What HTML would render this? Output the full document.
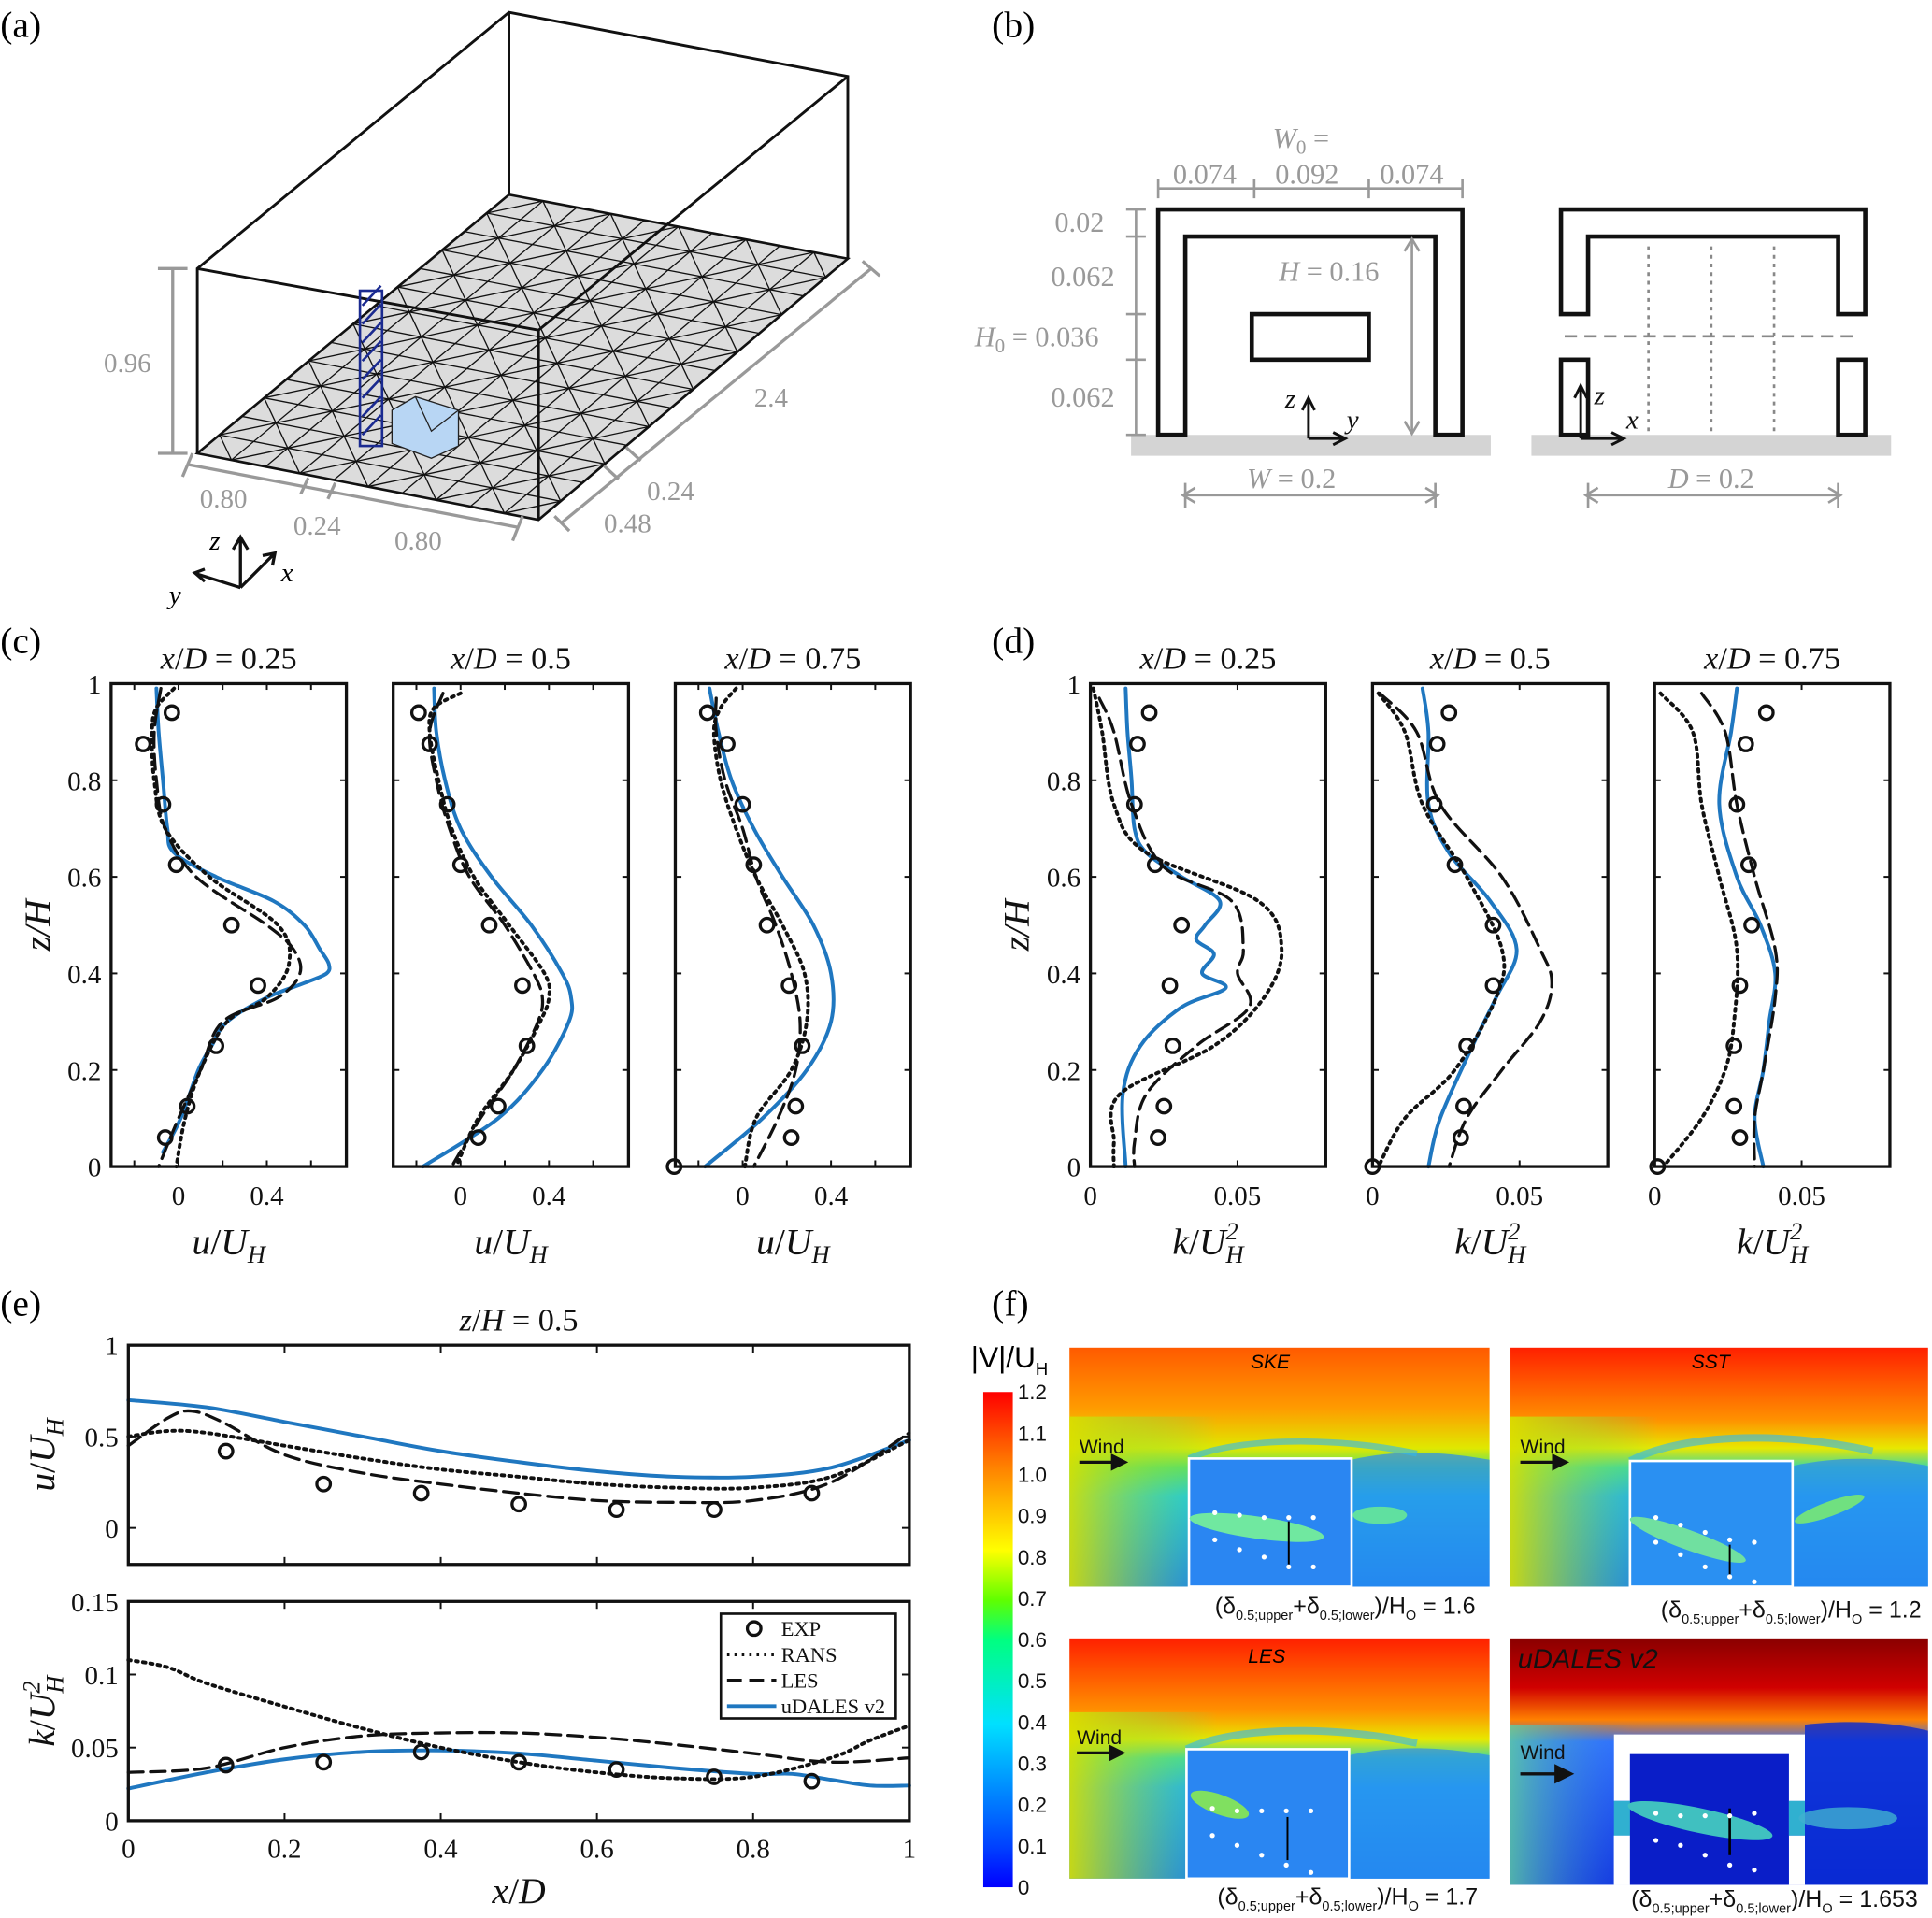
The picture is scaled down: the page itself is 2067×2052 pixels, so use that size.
<!DOCTYPE html>
<html><head><meta charset="utf-8">
<style>
html,body{margin:0;padding:0;background:#fff;}
svg{display:block;}
.ser{font-family:"Liberation Serif",serif;}
.it{font-style:italic;}
.sans{font-family:"Liberation Sans",sans-serif;}
</style></head>
<body>
<svg id="fig" width="2067" height="2052" viewBox="0 0 1568 1557" xmlns="http://www.w3.org/2000/svg">
<defs>
<linearGradient id="jet" x1="0" y1="1" x2="0" y2="0">
<stop offset="0" stop-color="#0000ff"/><stop offset="0.08" stop-color="#0040ff"/>
<stop offset="0.33" stop-color="#00e0ff"/><stop offset="0.5" stop-color="#00ff80"/>
<stop offset="0.58" stop-color="#60ff00"/><stop offset="0.68" stop-color="#ffff00"/>
<stop offset="0.85" stop-color="#ff8000"/><stop offset="1" stop-color="#ff0000"/>
</linearGradient>
<linearGradient id="fieldA" x1="0" y1="0" x2="0" y2="1">
<stop offset="0" stop-color="#ff5a00"/><stop offset="0.25" stop-color="#ff9a00"/>
<stop offset="0.42" stop-color="#e0e800"/><stop offset="0.5" stop-color="#60e060"/>
<stop offset="0.62" stop-color="#20c8e0"/><stop offset="1" stop-color="#1a80f0"/>
</linearGradient>
<linearGradient id="fieldB" x1="0" y1="0" x2="0" y2="1">
<stop offset="0" stop-color="#ff2000"/><stop offset="0.3" stop-color="#ff9000"/>
<stop offset="0.42" stop-color="#e8e800"/><stop offset="0.5" stop-color="#40d8a0"/>
<stop offset="0.62" stop-color="#20b0f0"/><stop offset="1" stop-color="#1a80f0"/>
</linearGradient>
<linearGradient id="fieldD" x1="0" y1="0" x2="0" y2="1">
<stop offset="0" stop-color="#8a0000"/><stop offset="0.2" stop-color="#d00000"/>
<stop offset="0.33" stop-color="#ff8000"/><stop offset="0.42" stop-color="#3070ff"/>
<stop offset="1" stop-color="#1030e0"/>
</linearGradient>
<linearGradient id="leftGlow" x1="0" y1="0" x2="1" y2="0">
<stop offset="0" stop-color="#d8e000" stop-opacity="0.9"/><stop offset="1" stop-color="#60e060" stop-opacity="0"/>
</linearGradient>
<linearGradient id="leftGlowD" x1="0" y1="0" x2="1" y2="0">
<stop offset="0" stop-color="#60d0a0" stop-opacity="0.8"/><stop offset="1" stop-color="#3080f0" stop-opacity="0"/>
</linearGradient>
</defs>

<!-- Panel labels -->
<text class="ser" x="0" y="30" font-size="30">(a)</text>
<text class="ser" x="805" y="30" font-size="30">(b)</text>
<text class="ser" x="0" y="530" font-size="30">(c)</text>
<text class="ser" x="805" y="530" font-size="30">(d)</text>
<text class="ser" x="0" y="1068" font-size="30">(e)</text>
<text class="ser" x="805" y="1068" font-size="30">(f)</text>

<!-- Panel (a) -->
<g id="panelA">
<polygon points="160,368 437,422 688,210 413,158" fill="#dcdcdc" stroke="#111" stroke-width="2"/>
<g id="mesh" stroke="#111" stroke-width="1"></g>
<g fill="none" stroke="#111" stroke-width="2.2">
<polyline points="160,368 160,218 413,10 688,62 688,210"/>
<line x1="413" y1="10" x2="413" y2="158"/>
<polyline points="160,218 437,268 688,62"/>
<line x1="437" y1="268" x2="437" y2="422"/>
</g>
<g>
<polygon points="318,333 337,322 372,333 372,362 350,372 318,360" fill="#b8d6f4" stroke="#222" stroke-width="1"/>
<polyline points="337,322 350,350 372,333 M318,333 350,350 350,372" fill="none" stroke="#222" stroke-width="1"/>
</g>
<g stroke="#1a2a90" stroke-width="2" fill="none">
<rect x="292" y="236" width="18" height="126"/>
<path d="M294,248 L309,232 M294,263 L309,247 M294,278 L309,262 M294,293 L309,277 M294,308 L309,292 M294,323 L309,307 M294,338 L309,322 M294,353 L309,337"/>
</g>
<g stroke="#999" stroke-width="2.5" fill="none">
<line x1="140" y1="218" x2="140" y2="368"/><line x1="128" y1="218" x2="152" y2="218"/><line x1="128" y1="368" x2="152" y2="368"/>
<line x1="152" y1="377" x2="420" y2="428"/><line x1="148" y1="387" x2="156" y2="368"/><line x1="416" y1="439" x2="424" y2="419"/>
<line x1="244" y1="401" x2="250" y2="388"/><line x1="266" y1="405" x2="272" y2="392"/>
<line x1="455" y1="425" x2="707" y2="218"/><line x1="450" y1="419" x2="462" y2="431"/><line x1="700" y1="212" x2="714" y2="224"/>
<line x1="490" y1="378" x2="502" y2="389"/><line x1="508" y1="363" x2="520" y2="374"/>
</g>
<g class="ser" fill="#999" font-size="22">
<text x="84" y="302">0.96</text>
<text x="612" y="330">2.4</text>
<text x="162" y="412">0.80</text>
<text x="238" y="434">0.24</text>
<text x="320" y="446">0.80</text>
<text x="525" y="406">0.24</text>
<text x="490" y="432">0.48</text>
</g>
<g stroke="#111" stroke-width="2.5" fill="none">
<path d="M195,477 L195,436 M189,446 L195,436 L201,446"/>
<path d="M195,477 L160,466 M166,462 L158,465 L166,472"/>
<path d="M195,477 L222,450 M213,451 L223,449 L221,459"/>
</g>
<text class="ser it" x="170" y="446" font-size="22">z</text>
<text class="ser it" x="228" y="472" font-size="22">x</text>
<text class="ser it" x="137" y="490" font-size="22">y</text>
</g>

<!-- Panel (b) -->
<g id="panelB">
<rect x="918" y="353" width="292" height="17" fill="#d4d4d4"/>
<rect x="1243" y="353" width="292" height="17" fill="#d4d4d4"/>
<path d="M940,353 V170 H1187 V353 H1165 V192 H962 V353 Z" fill="none" stroke="#111" stroke-width="3.5"/>
<rect x="1016" y="255" width="95" height="37" fill="none" stroke="#111" stroke-width="3.5"/>
<path d="M1267,255 V170 H1514 V255 H1492 V192 H1289 V255 Z" fill="none" stroke="#111" stroke-width="3.5"/>
<rect x="1267" y="292" width="22" height="61" fill="none" stroke="#111" stroke-width="3.5"/>
<rect x="1492" y="292" width="22" height="61" fill="none" stroke="#111" stroke-width="3.5"/>
<g stroke="#888" stroke-width="2" stroke-dasharray="3,4">
<line x1="1338" y1="200" x2="1338" y2="353"/><line x1="1389" y1="200" x2="1389" y2="353"/><line x1="1440" y1="200" x2="1440" y2="353"/>
</g>
<line x1="1270" y1="273" x2="1510" y2="273" stroke="#888" stroke-width="2" stroke-dasharray="10,6"/>
<g stroke="#999" stroke-width="2" fill="none">
<path d="M940,153 H1187 M940,145 V161 M1018,145 V161 M1111,145 V161 M1187,145 V161"/>
<path d="M922,170 V353 M914,170 H930 M914,192 H930 M914,255 H930 M914,292 H930 M914,353 H930"/>
<path d="M1146,196 V350 M1140,204 L1146,194 L1152,204 M1140,342 L1146,352 L1152,342"/>
<path d="M962,402 H1165 M970,396 L960,402 L970,408 M1157,396 L1167,402 L1157,408 M962,392 V412 M1165,392 V412"/>
<path d="M1289,402 H1492 M1297,396 L1287,402 L1297,408 M1484,396 L1494,402 L1484,408 M1289,392 V412 M1492,392 V412"/>
</g>
<g class="ser" fill="#999" font-size="23">
<text x="1033" y="120" class="it">W<tspan font-size="16" dy="5" font-style="normal">0</tspan><tspan dy="-5" font-style="normal"> =</tspan></text>
<text x="952" y="149">0.074</text>
<text x="1035" y="149">0.092</text>
<text x="1120" y="149">0.074</text>
<text x="856" y="188">0.02</text>
<text x="853" y="232">0.062</text>
<text x="791" y="281"><tspan font-style="italic">H</tspan><tspan font-size="16" dy="5">0</tspan><tspan dy="-5"> = 0.036</tspan></text>
<text x="853" y="330">0.062</text>
<text x="1038" y="228"><tspan font-style="italic">H</tspan> = 0.16</text>
<text x="1012" y="396"><tspan font-style="italic">W</tspan> = 0.2</text>
<text x="1354" y="396"><tspan font-style="italic">D</tspan> = 0.2</text>
</g>
<g stroke="#111" stroke-width="2.2" fill="none">
<path d="M1062,356 V325 M1057,333 L1062,323 L1067,333 M1062,356 H1090 M1082,351 L1092,356 L1082,361"/>
<path d="M1283,356 V315 M1278,323 L1283,313 L1288,323 M1283,356 H1316 M1308,351 L1318,356 L1308,361"/>
</g>
<g class="ser it" font-size="22" fill="#111">
<text x="1043" y="331">z</text>
<text x="1093" y="348">y</text>
<text x="1294" y="328">z</text>
<text x="1320" y="348">x</text>
</g>
</g>

<!-- Panels (c),(d),(e) rendered by script -->
<g id="charts"></g>

<!-- Panel (f) -->
<g id="panelF">
<text class="sans" x="788" y="1110" font-size="24">|V|/U<tspan font-size="14" dy="6">H</tspan></text>
<rect x="798" y="1130" width="24" height="402" fill="url(#jet)"/>
<g id="cbticks" class="sans" font-size="17" fill="#111"></g>

<g>
<rect x="868" y="1094" width="341" height="194" fill="url(#fieldA)"/>
<rect x="868" y="1150" width="120" height="138" fill="url(#leftGlow)"/>
<path d="M1097,1185 C1140,1175 1180,1180 1209,1185 L1209,1288 L1097,1288 Z" fill="#2a8cf0" opacity="0.7"/>
<path d="M965,1184 C1000,1168 1080,1165 1150,1180" fill="none" stroke="#30b8f0" stroke-width="5" opacity="0.6"/>
<rect x="965" y="1184" width="132" height="104" fill="#2a86f2" stroke="#fff" stroke-width="2"/>
<ellipse cx="1020" cy="1240" rx="55" ry="9" fill="#70e8a0" transform="rotate(8 1020 1240)"/>
<ellipse cx="1120" cy="1230" rx="22" ry="7" fill="#60e0a0"/>
<line x1="1046" y1="1235" x2="1046" y2="1270" stroke="#000" stroke-width="1.5"/>
<text class="sans it" x="1015" y="1111" font-size="16">SKE</text>
</g>
<g>
<rect x="1226" y="1094" width="339" height="194" fill="url(#fieldB)"/>
<rect x="1226" y="1150" width="120" height="138" fill="url(#leftGlow)"/>
<path d="M1455,1190 C1500,1180 1540,1185 1565,1190 L1565,1288 L1455,1288 Z" fill="#2a8cf0" opacity="0.7"/>
<path d="M1323,1186 C1360,1166 1440,1160 1520,1178" fill="none" stroke="#30b8f0" stroke-width="6" opacity="0.6"/>
<rect x="1323" y="1186" width="132" height="102" fill="#2a90f2" stroke="#fff" stroke-width="2"/>
<ellipse cx="1370" cy="1250" rx="50" ry="8" fill="#70e0a0" transform="rotate(20 1370 1250)"/>
<ellipse cx="1485" cy="1225" rx="30" ry="6" fill="#70e080" transform="rotate(-20 1485 1225)"/>
<line x1="1404" y1="1254" x2="1404" y2="1280" stroke="#000" stroke-width="1.5"/>
<text class="sans it" x="1373" y="1111" font-size="16">SST</text>
</g>
<g>
<rect x="868" y="1330" width="341" height="195" fill="url(#fieldB)"/>
<rect x="868" y="1390" width="120" height="135" fill="url(#leftGlow)"/>
<path d="M1095,1425 C1140,1415 1180,1420 1209,1425 L1209,1525 L1095,1525 Z" fill="#2a8cf0" opacity="0.7"/>
<path d="M963,1420 C1000,1402 1080,1400 1150,1415" fill="none" stroke="#30b8f0" stroke-width="6" opacity="0.6"/>
<rect x="963" y="1420" width="132" height="105" fill="#2a86f2" stroke="#fff" stroke-width="2"/>
<ellipse cx="990" cy="1465" rx="25" ry="8" fill="#80e060" transform="rotate(20 990 1465)"/>
<line x1="1045" y1="1475" x2="1045" y2="1510" stroke="#000" stroke-width="1.5"/>
<text class="sans it" x="1013" y="1350" font-size="16">LES</text>
</g>
<g>
<rect x="1226" y="1330" width="339" height="200" fill="url(#fieldD)"/>
<rect x="1226" y="1400" width="100" height="130" fill="url(#leftGlowD)"/>
<path d="M1465,1400 C1510,1395 1545,1400 1565,1405 L1565,1530 L1465,1530 Z" fill="#0828d0" opacity="0.8"/>
<path d="M1310,1408 V1530 H1323 V1490 H1310 M1323,1462 V1424 H1452 V1462 H1465 V1408 Z" fill="#fff"/>
<path d="M1310,1408 H1465 V1462 H1452 V1424 H1323 V1462 H1310 Z" fill="#fff"/>
<rect x="1310" y="1490" width="13" height="40" fill="#fff"/>
<rect x="1452" y="1490" width="13" height="40" fill="#fff"/>
<rect x="1323" y="1424" width="129" height="106" fill="#0a1ec8"/>
<rect x="1310" y="1462" width="13" height="28" fill="#30b0d0"/>
<rect x="1452" y="1462" width="13" height="28" fill="#30b0d0"/>
<ellipse cx="1380" cy="1478" rx="60" ry="10" fill="#40c0c0" transform="rotate(12 1380 1478)"/>
<ellipse cx="1500" cy="1476" rx="40" ry="9" fill="#40b0d0" opacity="0.8"/>
<line x1="1404" y1="1468" x2="1404" y2="1506" stroke="#000" stroke-width="2"/>
<text class="sans it" x="1232" y="1354" font-size="22" fill="#111">uDALES v2</text>
</g>
<g fill="#fff">
<circle cx="986" cy="1228" r="2"/><circle cx="1006" cy="1230" r="2"/><circle cx="1026" cy="1232" r="2"/><circle cx="1046" cy="1232" r="2"/><circle cx="1066" cy="1232" r="2"/>
<circle cx="986" cy="1250" r="2"/><circle cx="1006" cy="1258" r="2"/><circle cx="1026" cy="1264" r="2"/><circle cx="1046" cy="1272" r="2"/><circle cx="1066" cy="1272" r="2"/>
<circle cx="1344" cy="1232" r="2"/><circle cx="1364" cy="1238" r="2"/><circle cx="1384" cy="1244" r="2"/><circle cx="1404" cy="1250" r="2"/><circle cx="1424" cy="1252" r="2"/>
<circle cx="1344" cy="1252" r="2"/><circle cx="1364" cy="1262" r="2"/><circle cx="1384" cy="1272" r="2"/><circle cx="1404" cy="1280" r="2"/><circle cx="1424" cy="1284" r="2"/>
<circle cx="984" cy="1468" r="2"/><circle cx="1004" cy="1470" r="2"/><circle cx="1024" cy="1470" r="2"/><circle cx="1044" cy="1470" r="2"/><circle cx="1064" cy="1470" r="2"/>
<circle cx="984" cy="1490" r="2"/><circle cx="1004" cy="1498" r="2"/><circle cx="1024" cy="1506" r="2"/><circle cx="1044" cy="1514" r="2"/><circle cx="1064" cy="1520" r="2"/>
<circle cx="1344" cy="1472" r="2"/><circle cx="1364" cy="1474" r="2"/><circle cx="1384" cy="1474" r="2"/><circle cx="1404" cy="1474" r="2"/><circle cx="1424" cy="1472" r="2"/>
<circle cx="1344" cy="1494" r="2"/><circle cx="1364" cy="1498" r="2"/><circle cx="1384" cy="1506" r="2"/><circle cx="1404" cy="1514" r="2"/><circle cx="1424" cy="1518" r="2"/>
</g>
<g class="sans" font-size="16" fill="#111">
<text x="876" y="1180">Wind</text>
<text x="1234" y="1180">Wind</text>
<text x="874" y="1416">Wind</text>
<text x="1234" y="1428">Wind</text>
</g>
<g stroke="#111" stroke-width="2.5" fill="#111">
<line x1="876" y1="1187" x2="905" y2="1187"/><polygon points="903,1182 913,1187 903,1192"/>
<line x1="1234" y1="1187" x2="1263" y2="1187"/><polygon points="1261,1182 1271,1187 1261,1192"/>
<line x1="874" y1="1423" x2="903" y2="1423"/><polygon points="901,1418 911,1423 901,1428"/>
<line x1="1234" y1="1440" x2="1266" y2="1440"/><polygon points="1263,1434 1275,1440 1263,1446"/>
</g>
<g class="sans" font-size="19" fill="#111">
<text x="986" y="1310">(δ<tspan font-size="11" dy="5">0.5;upper</tspan><tspan dy="-5">+δ</tspan><tspan font-size="11" dy="5">0.5;lower</tspan><tspan dy="-5">)/H</tspan><tspan font-size="11" dy="5">O</tspan><tspan dy="-5"> = 1.6</tspan></text>
<text x="1348" y="1313">(δ<tspan font-size="11" dy="5">0.5;upper</tspan><tspan dy="-5">+δ</tspan><tspan font-size="11" dy="5">0.5;lower</tspan><tspan dy="-5">)/H</tspan><tspan font-size="11" dy="5">O</tspan><tspan dy="-5"> = 1.2</tspan></text>
<text x="988" y="1546">(δ<tspan font-size="11" dy="5">0.5;upper</tspan><tspan dy="-5">+δ</tspan><tspan font-size="11" dy="5">0.5;lower</tspan><tspan dy="-5">)/H</tspan><tspan font-size="11" dy="5">O</tspan><tspan dy="-5"> = 1.7</tspan></text>
<text x="1324" y="1548">(δ<tspan font-size="11" dy="5">0.5;upper</tspan><tspan dy="-5">+δ</tspan><tspan font-size="11" dy="5">0.5;lower</tspan><tspan dy="-5">)/H</tspan><tspan font-size="11" dy="5">O</tspan><tspan dy="-5"> = 1.653</tspan></text>
</g>
</g>
</svg>
<script>
// ===== Data (c): mean velocity profiles u/U_H vs z/H =====
const cTitles = ["0.25", "0.5", "0.75"];
const cZ_les_025 = [0.99,0.9,0.8,0.7,0.65,0.6,0.55,0.5,0.45,0.42,0.40,0.38,0.35,0.3,0.25,0.2,0.1,0.03];
const cU_les_025 = [-0.10,-0.09,-0.07,-0.05,-0.02,0.17,0.43,0.57,0.64,0.68,0.67,0.57,0.40,0.22,0.15,0.09,0.01,-0.07];
const cZ_rans_025 = [0.99,0.95,0.9,0.8,0.7,0.6,0.5,0.42,0.35,0.3,0.2,0.1,0.0];
const cU_rans_025 = [-0.02,-0.10,-0.12,-0.11,-0.06,0.14,0.45,0.50,0.40,0.22,0.10,0.03,-0.01];
const cZ_les2_025 = [0.99,0.9,0.8,0.7,0.6,0.5,0.45,0.4,0.35,0.3,0.2,0.1,0.0];
const cU_les2_025 = [-0.08,-0.11,-0.10,-0.06,0.08,0.40,0.52,0.55,0.45,0.20,0.10,0.00,-0.09];
const cZ_exp = [0.94,0.875,0.75,0.625,0.5,0.375,0.25,0.125,0.06];
const cU_exp_025 = [-0.03,-0.16,-0.07,-0.01,0.24,0.36,0.17,0.04,-0.06];

const cZ_les_05 = [0.99,0.9,0.8,0.7,0.6,0.5,0.4,0.35,0.3,0.2,0.1,0.0];
const cU_les_05 = [-0.12,-0.11,-0.07,0.0,0.14,0.32,0.46,0.50,0.49,0.37,0.17,-0.17];
const cZ_rans_05 = [0.98,0.95,0.9,0.8,0.7,0.6,0.5,0.4,0.35,0.3,0.2,0.1,0.0];
const cU_rans_05 = [0.0,-0.12,-0.14,-0.10,-0.04,0.06,0.22,0.38,0.40,0.36,0.24,0.08,-0.02];
const cZ_les2_05 = [0.98,0.9,0.8,0.7,0.6,0.5,0.4,0.35,0.3,0.2,0.1,0.0];
const cU_les2_05 = [-0.08,-0.14,-0.11,-0.05,0.04,0.20,0.33,0.37,0.35,0.24,0.09,-0.04];
const cU_exp_05 = [-0.19,-0.14,-0.06,0.0,0.13,0.28,0.30,0.17,0.08];

const cZ_les_075 = [0.99,0.9,0.8,0.7,0.6,0.5,0.4,0.3,0.2,0.1,0.0];
const cU_les_075 = [-0.15,-0.11,-0.05,0.05,0.18,0.32,0.40,0.40,0.29,0.09,-0.17];
const cZ_rans_075 = [0.99,0.95,0.9,0.8,0.7,0.6,0.5,0.4,0.3,0.2,0.1,0.0];
const cU_rans_075 = [-0.03,-0.10,-0.13,-0.10,-0.03,0.06,0.18,0.28,0.29,0.22,0.06,0.01];
const cZ_les2_075 = [0.97,0.9,0.8,0.7,0.6,0.5,0.4,0.3,0.2,0.1,0.0];
const cU_les2_075 = [-0.12,-0.12,-0.08,0.0,0.06,0.15,0.22,0.26,0.24,0.16,0.05];
const cZ_exp_075 = [0.94,0.875,0.75,0.625,0.5,0.375,0.25,0.125,0.06,0.0];
const cU_exp_075 = [-0.16,-0.07,0.0,0.05,0.11,0.21,0.27,0.24,0.22,-0.31];

// ===== Data (d): TKE profiles k/U_H^2 vs z/H =====
const dZ_les_025 = [0.99,0.9,0.8,0.7,0.65,0.6,0.55,0.5,0.47,0.44,0.4,0.37,0.33,0.25,0.15,0.0];
const dK_les_025 = [0.012,0.0126,0.014,0.015,0.019,0.031,0.044,0.039,0.036,0.042,0.038,0.046,0.031,0.017,0.011,0.012];
const dZ_rans_025 = [0.99,0.9,0.75,0.65,0.55,0.45,0.35,0.25,0.15,0.05,0.0];
const dK_rans_025 = [0.001,0.004,0.008,0.019,0.057,0.065,0.059,0.042,0.010,0.008,0.008];
const dZ_les2_025 = [0.97,0.9,0.75,0.62,0.55,0.45,0.4,0.33,0.25,0.15,0.05,0.0];
const dK_les2_025 = [0.003,0.008,0.014,0.025,0.048,0.052,0.050,0.054,0.036,0.019,0.015,0.015];
const dZ_exp = [0.94,0.875,0.75,0.625,0.5,0.375,0.25,0.125,0.06];
const dK_exp_025 = [0.020,0.016,0.015,0.022,0.031,0.027,0.028,0.025,0.023];

const dZ_les_05 = [0.99,0.9,0.75,0.65,0.55,0.45,0.35,0.25,0.1,0.0];
const dK_les_05 = [0.017,0.019,0.019,0.026,0.040,0.049,0.042,0.034,0.023,0.019];
const dZ_rans_05 = [0.98,0.9,0.75,0.6,0.45,0.35,0.2,0.1,0.0];
const dK_rans_05 = [0.002,0.011,0.017,0.032,0.044,0.042,0.028,0.011,0.002];
const dZ_les2_05 = [0.98,0.9,0.75,0.6,0.45,0.38,0.3,0.2,0.1,0.0];
const dK_les2_05 = [0.0025,0.015,0.023,0.044,0.057,0.061,0.057,0.044,0.032,0.026];
const dZ_exp_05 = [0.94,0.875,0.75,0.625,0.5,0.375,0.25,0.125,0.06,0.0];
const dK_exp_05 = [0.026,0.022,0.021,0.028,0.041,0.041,0.032,0.031,0.030,0.0];

const dZ_les_075 = [0.99,0.9,0.75,0.6,0.5,0.4,0.3,0.2,0.1,0.0];
const dK_les_075 = [0.028,0.026,0.022,0.028,0.036,0.041,0.039,0.037,0.034,0.037];
const dZ_rans_075 = [0.98,0.9,0.75,0.6,0.45,0.3,0.2,0.1,0.0];
const dK_rans_075 = [0.002,0.013,0.016,0.022,0.028,0.027,0.024,0.016,0.003];
const dZ_les2_075 = [0.98,0.9,0.75,0.6,0.45,0.35,0.2,0.1,0.0];
const dK_les2_075 = [0.016,0.024,0.028,0.034,0.041,0.041,0.037,0.034,0.034];
const dK_exp_075 = [0.038,0.031,0.028,0.032,0.033,0.029,0.027,0.027,0.029,0.001];

// ===== Data (e): along x/D at z/H = 0.5 =====
const eX_les = [0,0.1,0.2,0.3,0.4,0.5,0.6,0.7,0.8,0.9,1.0];
const eU_les = [0.70,0.66,0.58,0.50,0.42,0.36,0.31,0.28,0.28,0.33,0.48];
const eX_rans = [0,0.05,0.1,0.2,0.3,0.4,0.5,0.6,0.7,0.8,0.9,1.0];
const eU_rans = [0.50,0.53,0.52,0.45,0.38,0.32,0.28,0.24,0.22,0.22,0.28,0.48];
const eX_les2 = [0,0.05,0.08,0.12,0.2,0.3,0.4,0.5,0.6,0.7,0.8,0.9,1.0];
const eU_les2 = [0.45,0.60,0.64,0.58,0.40,0.30,0.24,0.19,0.15,0.14,0.15,0.25,0.52];
const eX_exp = [0.125,0.25,0.375,0.5,0.625,0.75,0.875];
const eU_exp = [0.42,0.24,0.19,0.13,0.10,0.10,0.19];
const eX_k_les = [0,0.1,0.2,0.3,0.4,0.5,0.6,0.7,0.8,0.85,0.9,0.95,1.0];
const eK_les = [0.022,0.033,0.042,0.047,0.048,0.046,0.041,0.036,0.032,0.032,0.028,0.024,0.024];
const eX_k_rans = [0,0.05,0.1,0.2,0.3,0.4,0.5,0.6,0.7,0.8,0.9,0.95,1.0];
const eK_rans = [0.110,0.105,0.094,0.078,0.063,0.050,0.040,0.033,0.029,0.030,0.043,0.055,0.065];
const eX_k_les2 = [0,0.1,0.2,0.3,0.4,0.5,0.6,0.7,0.8,0.9,1.0];
const eK_les2 = [0.033,0.036,0.050,0.058,0.060,0.060,0.057,0.052,0.046,0.040,0.043];
const eK_exp = [0.038,0.040,0.047,0.040,0.035,0.030,0.027];

const cbLabels = ["0","0.1","0.2","0.3","0.4","0.5","0.6","0.7","0.8","0.9","1.0","1.1","1.2"];

const NS = "http://www.w3.org/2000/svg";
const root = document.getElementById('charts');
function el(tag, attrs, parent){const e=document.createElementNS(NS,tag);for(const k in attrs)e.setAttribute(k,attrs[k]);(parent||root).appendChild(e);return e;}
function smooth(pts){
  if(pts.length<2)return "";
  let d="M"+pts[0][0].toFixed(1)+","+pts[0][1].toFixed(1);
  for(let i=0;i<pts.length-1;i++){
    const p0=pts[Math.max(0,i-1)],p1=pts[i],p2=pts[i+1],p3=pts[Math.min(pts.length-1,i+2)];
    const c1=[p1[0]+(p2[0]-p0[0])/6,p1[1]+(p2[1]-p0[1])/6],c2=[p2[0]-(p3[0]-p1[0])/6,p2[1]-(p3[1]-p1[1])/6];
    d+="C"+c1[0].toFixed(1)+","+c1[1].toFixed(1)+" "+c2[0].toFixed(1)+","+c2[1].toFixed(1)+" "+p2[0].toFixed(1)+","+p2[1].toFixed(1);
  }
  return d;
}
const styles={les:{stroke:"#1f77c0",w:3,dash:""},rans:{stroke:"#111",w:3,dash:"2,4"},les2:{stroke:"#111",w:2.5,dash:"12,6"}};
function text(x,y,str,size,anchor,cls,g){const t=el('text',{x:x,y:y,'font-size':size,'text-anchor':anchor||'middle','class':cls||'ser',fill:'#111'},g);t.textContent=str;return t;}

function profile(g,box,xmin,xmax,ymin,ymax){
  const sx=v=>box.x+(v-xmin)/(xmax-xmin)*box.w;
  const sy=v=>box.y+box.h-(v-ymin)/(ymax-ymin)*box.h;
  return {sx,sy};
}
function drawLine(g,xs,ys,sx,sy,st,name,swap){
  const pts=xs.map((v,i)=>swap?[sx(ys[i]),sy(v)]:[sx(v),sy(ys[i])]);
  const p=el('path',{d:smooth(pts),fill:'none',stroke:st.stroke,'stroke-width':st.w,'stroke-dasharray':st.dash,'stroke-linecap':'round'},g);
  
  
}
function drawExp(g,xs,ys,sx,sy,name,swap){
  xs.forEach((v,i)=>{
    const c=el('circle',{cx:swap?sx(ys[i]):sx(v),cy:swap?sy(v):sy(ys[i]),r:5.5,fill:'none',stroke:'#111','stroke-width':2.5},g);
    
    
  });
}

const cBoxesX=[90,319,548];
const cData=[
 [cZ_les_025,cU_les_025,cZ_rans_025,cU_rans_025,cZ_les2_025,cU_les2_025,cZ_exp,cU_exp_025],
 [cZ_les_05,cU_les_05,cZ_rans_05,cU_rans_05,cZ_les2_05,cU_les2_05,cZ_exp,cU_exp_05],
 [cZ_les_075,cU_les_075,cZ_rans_075,cU_rans_075,cZ_les2_075,cU_les2_075,cZ_exp_075,cU_exp_075]];
const cXMinor=[-0.2,0,0.2,0.4,0.6];
const zTicks=[0,0.2,0.4,0.6,0.8,1];
const zTickLabels=["0","0.2","0.4","0.6","0.8","1"];
function profilePanel(bx,xmin,xmax,dat,title,xticks,xtickLabels,xlabelHtml,idx,pfx,showY){
  const g=el('g',{});
  
  
  const box={x:bx,y:555,w:191,h:392};
  const {sx,sy}=profile(g,box,xmin,xmax,0,1);
  xticks.forEach(v=>{el('line',{x1:sx(v),x2:sx(v),y1:box.y+box.h,y2:box.y+box.h-5,stroke:'#111','stroke-width':1.5},g);el('line',{x1:sx(v),x2:sx(v),y1:box.y,y2:box.y+5,stroke:'#111','stroke-width':1.5},g);});
  zTicks.forEach(v=>{el('line',{x1:box.x,x2:box.x+5,y1:sy(v),y2:sy(v),stroke:'#111','stroke-width':1.5},g);el('line',{x1:box.x+box.w,x2:box.x+box.w-5,y1:sy(v),y2:sy(v),stroke:'#111','stroke-width':1.5},g);});
  drawLine(g,dat[0],dat[1],sx,sy,styles.les,pfx+'-udales-line-'+idx,true);
  drawLine(g,dat[2],dat[3],sx,sy,styles.rans,pfx+'-rans-line-'+idx,true);
  drawLine(g,dat[4],dat[5],sx,sy,styles.les2,pfx+'-les-line-'+idx,true);
  drawExp(g,dat[6],dat[7],sx,sy,pfx+'-exp-point-'+idx,true);
  const fr=el('rect',{x:box.x,y:box.y,width:box.w,height:box.h,fill:'none',stroke:'#111','stroke-width':2.5},g);
  
  
  xtickLabels.forEach((l,i)=>{const t=text(sx(l.v),978,l.s,22,'middle','ser',g);});
  if(showY){zTicks.forEach((v,i)=>{const t=text(box.x-8,sy(v)+8,zTickLabels[i],22,'end','ser',g);});
    const yl=el('text',{x:0,y:0,'font-size':30,'text-anchor':'middle','class':'ser it',fill:'#111',transform:'translate('+(box.x-50)+',751) rotate(-90)'},g);yl.textContent='z/H';
    }
  const tt=el('text',{x:box.x+box.w/2,y:543,'font-size':26,'text-anchor':'middle','class':'ser',fill:'#111'},g);
  tt.innerHTML='<tspan font-style="italic">x</tspan>/<tspan font-style="italic">D</tspan> = '+title;
  
  const xl=el('text',{x:box.x+box.w/2,y:1018,'font-size':30,'text-anchor':'middle','class':'ser',fill:'#111'},g);
  xl.innerHTML=xlabelHtml;
  
}
const uLabel='<tspan font-style="italic">u</tspan>/<tspan font-style="italic">U</tspan><tspan font-style="italic" font-size="20" dy="7">H</tspan>';
const kLabel='<tspan font-style="italic">k</tspan>/<tspan font-style="italic">U</tspan><tspan font-style="italic" font-size="20" dy="-12">2</tspan><tspan font-style="italic" font-size="20" dx="-10" dy="19">H</tspan>';
for(let i=0;i<3;i++){
  profilePanel(cBoxesX[i],-0.305,0.76,cData[i],cTitles[i],cXMinor,[{v:0,s:"0"},{v:0.4,s:"0.4"}],uLabel,i,'c',i===0);
}
const dBoxesX=[885,1114,1343];
const dData=[
 [dZ_les_025,dK_les_025,dZ_rans_025,dK_rans_025,dZ_les2_025,dK_les2_025,dZ_exp,dK_exp_025],
 [dZ_les_05,dK_les_05,dZ_rans_05,dK_rans_05,dZ_les2_05,dK_les2_05,dZ_exp_05,dK_exp_05],
 [dZ_les_075,dK_les_075,dZ_rans_075,dK_rans_075,dZ_les2_075,dK_les2_075,dZ_exp_05,dK_exp_075]];
for(let i=0;i<3;i++){
  profilePanel(dBoxesX[i],0,0.08,dData[i],cTitles[i],[0,0.05],[{v:0,s:"0"},{v:0.05,s:"0.05"}],kLabel,i,'d',i===0);
}
function linePanel(box,ymin,ymax,yticks,ylabels,series,exp,ylabelHtml,pfx,showX){
  const g=el('g',{});
  
  
  const sx=v=>box.x+v*box.w;
  const sy=v=>box.y+box.h-(v-ymin)/(ymax-ymin)*box.h;
  const xt=[0,0.2,0.4,0.6,0.8,1];
  xt.forEach(v=>{el('line',{x1:sx(v),x2:sx(v),y1:box.y+box.h,y2:box.y+box.h-6,stroke:'#111','stroke-width':1.5},g);el('line',{x1:sx(v),x2:sx(v),y1:box.y,y2:box.y+6,stroke:'#111','stroke-width':1.5},g);});
  yticks.forEach(v=>{el('line',{x1:box.x,x2:box.x+6,y1:sy(v),y2:sy(v),stroke:'#111','stroke-width':1.5},g);el('line',{x1:box.x+box.w,x2:box.x+box.w-6,y1:sy(v),y2:sy(v),stroke:'#111','stroke-width':1.5},g);});
  series.forEach(s=>drawLine(g,s[0],s[1],sx,sy,s[2],s[3],false));
  drawExp(g,exp[0],exp[1],sx,sy,pfx+'-exp-point',false);
  const fr=el('rect',{x:box.x,y:box.y,width:box.w,height:box.h,fill:'none',stroke:'#111','stroke-width':2.5},g);
  
  yticks.forEach((v,i)=>{const t=text(box.x-8,sy(v)+8,ylabels[i],22,'end','ser',g);});
  if(showX){xt.forEach(v=>{const t=text(sx(v),box.y+box.h+30,String(v),22,'middle','ser',g);});}
  const yl=el('text',{x:0,y:0,'font-size':30,'text-anchor':'middle','class':'ser',fill:'#111',transform:'translate('+(box.x-60)+','+(box.y+box.h/2)+') rotate(-90)'},g);
  yl.innerHTML=ylabelHtml;
}
const eYTicksU=[0,0.5,1], eYLabU=["0","0.5","1"];
const eYTicksK=[0,0.05,0.1,0.15], eYLabK=["0","0.05","0.1","0.15"];
linePanel({x:104,y:1092,w:634,h:178},-0.2,1,eYTicksU,eYLabU,
 [[eX_les,eU_les,styles.les,'e-u-udales-line'],[eX_rans,eU_rans,styles.rans,'e-u-rans-line'],[eX_les2,eU_les2,styles.les2,'e-u-les-line']],
 [eX_exp,eU_exp],uLabel,'e-u',false);
linePanel({x:104,y:1300,w:634,h:178},0,0.15,eYTicksK,eYLabK,
 [[eX_k_les,eK_les,styles.les,'e-k-udales-line'],[eX_k_rans,eK_rans,styles.rans,'e-k-rans-line'],[eX_k_les2,eK_les2,styles.les2,'e-k-les-line']],
 [eX_exp,eK_exp],kLabel,'e-k',true);
const et=el('text',{x:421,y:1080,'font-size':26,'text-anchor':'middle','class':'ser',fill:'#111'});
et.innerHTML='<tspan font-style="italic">z</tspan>/<tspan font-style="italic">H</tspan> = 0.5';

const ex=el('text',{x:421,y:1545,'font-size':30,'text-anchor':'middle','class':'ser',fill:'#111'});
ex.innerHTML='<tspan font-style="italic">x</tspan>/<tspan font-style="italic">D</tspan>';

const lg=el('g',{});


el('rect',{x:585,y:1310,width:142,height:85,fill:'#fff',stroke:'#111','stroke-width':2},lg);
const legendNames=["EXP","RANS","LES","uDALES v2"];
const legendStyles=[null,styles.rans,styles.les2,styles.les];
legendNames.forEach((n,i)=>{
  const y=1322+i*21;
  if(i===0){el('circle',{cx:612,cy:y,r:5.5,fill:'none',stroke:'#111','stroke-width':2.5},lg);}
  else{const s=legendStyles[i];el('line',{x1:590,x2:630,y1:y,y2:y,stroke:s.stroke,'stroke-width':s.w,'stroke-dasharray':s.dash},lg);}
  const t=text(634,y+6,n,17,'start','ser',lg);
  
  
});
const cb=document.getElementById('cbticks');
cbLabels.forEach((l,i)=>{
  const y=1532-i*(402/12);
  const t=el('text',{x:826,y:y+6,'font-size':17,fill:'#111','class':'sans'},cb);
  t.textContent=l;
  
  
});
const mesh=document.getElementById('mesh');
const A=[160,368],B=[437,422],C=[688,210],D=[413,158];
function lerp(p,q,t){return [p[0]+(q[0]-p[0])*t,p[1]+(q[1]-p[1])*t];}
const nu=14,nv=10;
for(let i=1;i<nu;i++){const t=i/nu;const p=lerp(A,D,t),q=lerp(B,C,t);el('line',{x1:p[0],y1:p[1],x2:q[0],y2:q[1]},mesh);}
for(let j=1;j<nv;j++){const t=j/nv;const p=lerp(A,B,t),q=lerp(D,C,t);el('line',{x1:p[0],y1:p[1],x2:q[0],y2:q[1]},mesh);}
for(let i=0;i<nu;i++)for(let j=0;j<nv;j++){
  const p=lerp(lerp(A,D,i/nu),lerp(B,C,i/nu),j/nv),q=lerp(lerp(A,D,(i+1)/nu),lerp(B,C,(i+1)/nu),(j+1)/nv);
  const r=lerp(lerp(A,D,i/nu),lerp(B,C,i/nu),(j+1)/nv),s=lerp(lerp(A,D,(i+1)/nu),lerp(B,C,(i+1)/nu),j/nv);
  if((i+j)%2)el('line',{x1:p[0],y1:p[1],x2:q[0],y2:q[1]},mesh);else el('line',{x1:r[0],y1:r[1],x2:s[0],y2:s[1]},mesh);
}
</script>
</body></html>
